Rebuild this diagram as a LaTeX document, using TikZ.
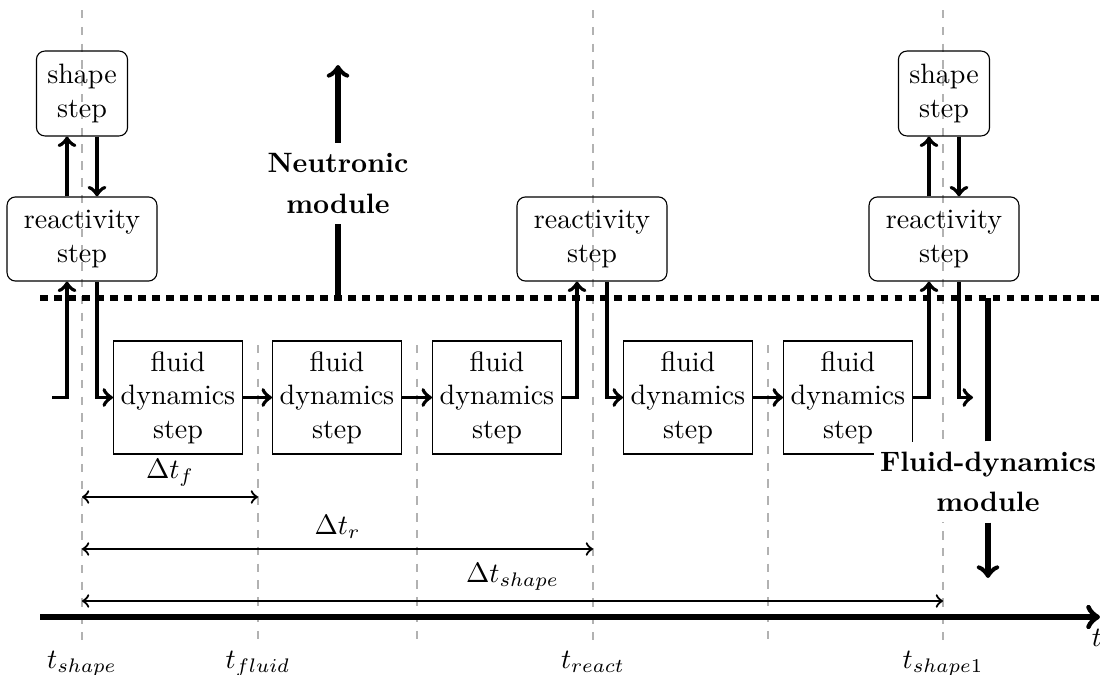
\documentclass[tikz,border=0pt]{standalone}
\begin{document}
\begin{tikzpicture}[x=0.35691pt,y=-0.35691pt,
  guide/.style={gray!60,dashed,line width=0.4pt},
  fluidbox/.style={draw,line width=0.4pt,minimum width=46pt,minimum height=40.3pt,align=center,inner sep=2pt},
  roundbox/.style={draw,line width=0.4pt,rounded corners=3pt,align=center,inner sep=2pt},
  shapebox/.style={roundbox,minimum width=32.5pt,minimum height=30.3pt},
  reactbox/.style={roundbox,minimum width=53.5pt,minimum height=30pt},
  flow/.style={line width=1.4pt,->},
  modline/.style={line width=1.8pt},
  modlabel/.style={font=\bfseries,align=center,fill=white,minimum height=28.6pt,inner sep=2pt},
  span/.style={line width=0.8pt,<->},
]
\useasboundingbox (0,0) rectangle (1100,675);

% time marks
\foreach \x in {82,593,943} \draw[guide] (\x,10) -- (\x,645);
\foreach \x in {258,417,768} \draw[guide] (\x,345) -- (\x,645);

% boundary between the two modules
\coordinate (dl) at (40,298);
\coordinate (dr) at (1100,298);
\draw[line width=1.8pt,dash pattern=on 2.8pt off 2.2pt] (dl) -- (dr);

% neutronic steps
\node[shapebox] (s1) at (82,93.5) {shape\\step};
\node[reactbox] (r1) at (82,239) {reactivity\\step};
\node[reactbox] (r2) at (592,239) {reactivity\\step};
\node[shapebox] (s2) at (944,93.5) {shape\\step};
\node[reactbox] (r3) at (944,239) {reactivity\\step};

% fluid-dynamics steps
\node[fluidbox] (f1) at (178,397.5) {fluid\\dynamics\\step};
\node[fluidbox] (f2) at (337,397.5) {fluid\\dynamics\\step};
\node[fluidbox] (f3) at (497,397.5) {fluid\\dynamics\\step};
\node[fluidbox] (f4) at (688,397.5) {fluid\\dynamics\\step};
\node[fluidbox] (f5) at (848,397.5) {fluid\\dynamics\\step};

% data flow
\coordinate (in0) at (52,397.5);
\coordinate (out0) at (973,397.5);
\draw[flow] (in0) -| ([xshift=-5.35pt]r1.south);
\draw[flow] ([xshift=-5.35pt]r1.north) -- ([xshift=-5.35pt]s1.south);
\draw[flow] ([xshift=5.35pt]s1.south) -- ([xshift=5.35pt]r1.north);
\draw[flow] ([xshift=5.35pt]r1.south) |- (f1.west);
\draw[flow] (f1) -- (f2);
\draw[flow] (f2) -- (f3);
\draw[flow] (f3.east) -| ([xshift=-5.35pt]r2.south);
\draw[flow] ([xshift=5.35pt]r2.south) |- (f4.west);
\draw[flow] (f4) -- (f5);
\draw[flow] (f5.east) -| ([xshift=-5.35pt]r3.south);
\draw[flow] ([xshift=-5.35pt]r3.north) -- ([xshift=-5.35pt]s2.south);
\draw[flow] ([xshift=5.35pt]s2.south) -- ([xshift=5.35pt]r3.north);
\draw[flow] ([xshift=5.35pt]r3.south) |- (out0);

% module labels
\coordinate (ntip) at (338,65);
\node[modlabel] (neu) at (338,183.5) {Neutronic\\[2.5pt]module};
\draw[modline] (neu.south) -- (neu.south |- dl);
\draw[modline,->] (neu.north) -- (ntip);

\coordinate (ftip) at (988,578);
\node[modlabel] (fm) at (988,482) {Fluid-dynamics\\[2.5pt]module};
\draw[modline] (fm.north) -- (fm.north |- dl);
\draw[modline,->] (fm.south) -- (ftip);

% time intervals
\draw[span] (82,497) -- (258,497) node[midway,above] {$\Delta t_f$};
\draw[span] (82,549) -- (593,549) node[midway,above] {$\Delta t_r$};
\draw[span] (82,601) -- (943,601) node[midway,above] {$\Delta t_{shape}$};

% time axis
\draw[line width=2pt,->] (40,617) -- (1100,617);
\node[anchor=base] (tax) at (1097,646) {$t$};
\node[anchor=base] (l1) at (82,668) {$t_{shape}$};
\node[anchor=base] (l2) at (258,668) {$t_{fluid}$};
\node[anchor=base] (l3) at (593,668) {$t_{react}$};
\node[anchor=base] (l4) at (943,668) {$t_{shape1}$};
\end{tikzpicture}
\end{document}
